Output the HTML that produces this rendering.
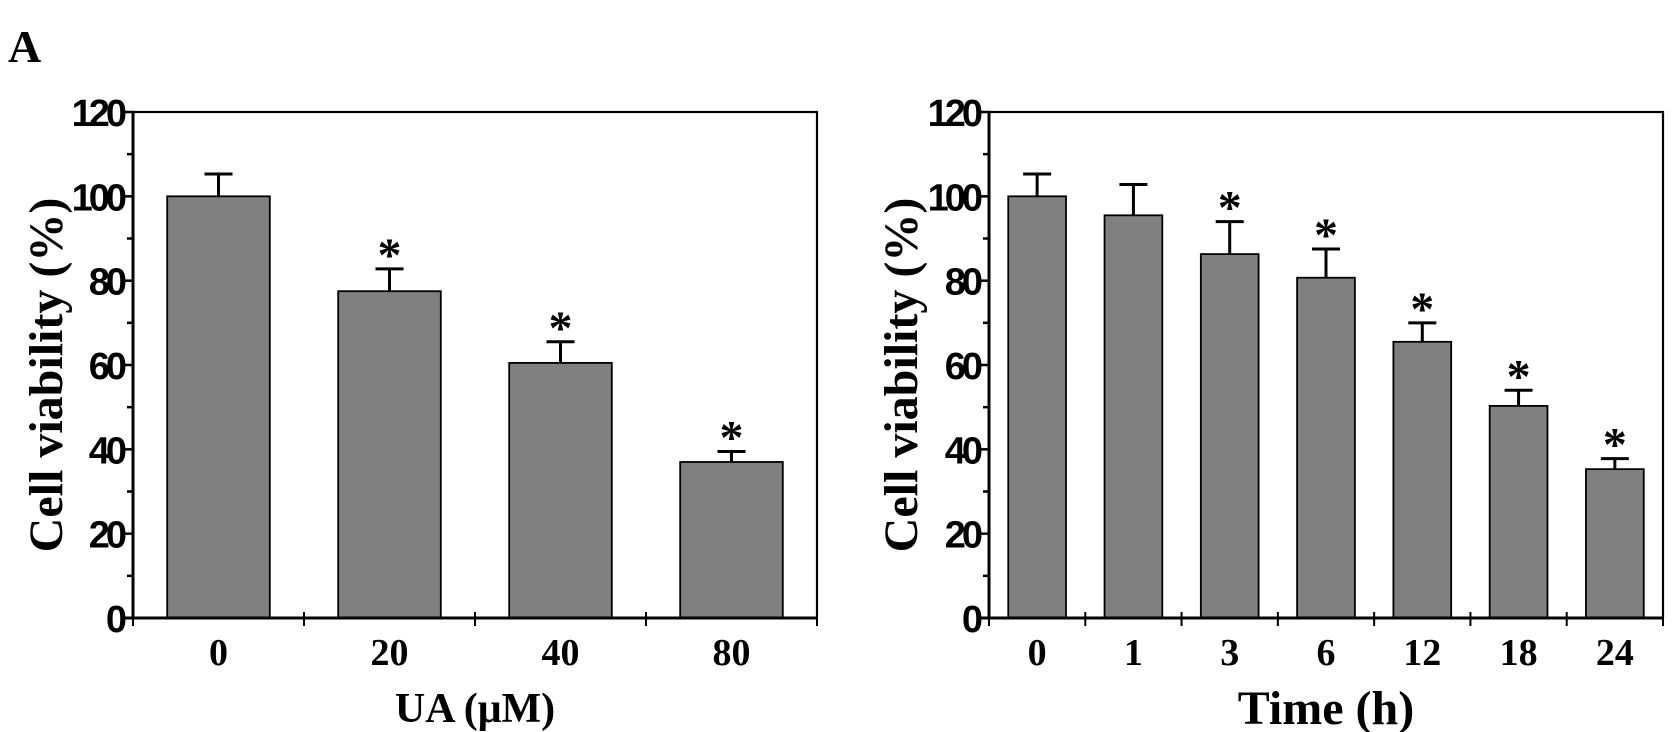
<!DOCTYPE html>
<html><head><meta charset="utf-8">
<style>
html,body{margin:0;padding:0;background:#fff;}
svg{display:block;}
.tick{font-family:"Liberation Sans",Arial,sans-serif;font-weight:bold;font-size:38px;letter-spacing:-4px;}
.serif{font-family:"Liberation Serif","Times New Roman",serif;font-weight:bold;}
</style></head>
<body>
<svg id="fig" width="1677" height="732" viewBox="0 0 1677 732" xmlns="http://www.w3.org/2000/svg">
<text x="8" y="62" class="serif" font-size="46">A</text>
</svg>
<script>
const leftCategories = ["0","20","40","80"];
const leftValues = [100, 77.5, 60.5, 37];
const leftErrors = [5.3, 5.3, 5, 2.5];
const leftSig = [false, true, true, true];
const rightCategories = ["0","1","3","6","12","18","24"];
const rightValues = [100, 95.5, 86.3, 80.7, 65.5, 50.3, 35.3];
const rightErrors = [5.3, 7.3, 7.7, 6.8, 4.5, 3.7, 2.5];
const rightSig = [false, false, true, true, true, true, true];
const yTicks = [0, 20, 40, 60, 80, 100, 120];

const NS = "http://www.w3.org/2000/svg";
const svg = document.getElementById("fig");
function mk(tag, attrs, parent){
  const e = document.createElementNS(NS, tag);
  for (const k in attrs) e.setAttribute(k, attrs[k]);
  (parent||svg).appendChild(e);
  return e;
}

function chart(cfg){
  const g = mk("g", {});
  
  
  const x0 = cfg.x0, x1 = cfg.x1, yTop = 112, yBot = 618;
  const y = v => yBot - (v / 120) * (yBot - yTop);
  const n = cfg.cats.length;
  const cw = (x1 - x0) / n;
  const xc = i => x0 + cw * (i + 0.5);
  const bw = cw * 0.6;
  cfg.vals.forEach((v, i) => {
    const r = mk("rect", {x: xc(i) - bw/2, y: y(v), width: bw, height: yBot - y(v), fill: "#808080", stroke: "#000", "stroke-width": 1.8}, g);
    
    
    const top = y(v + cfg.errs[i]);
    const eb = mk("path", {d: `M${xc(i)} ${y(v)} V${top} M${xc(i)-14} ${top} H${xc(i)+14}`, stroke: "#000", "stroke-width": 3, fill: "none"}, g);
    
    
    if (cfg.sig[i]) {
      const s = mk("text", {x: xc(i), y: top + 2, "text-anchor": "middle", class: "serif", "font-size": 48}, g);
      s.textContent = "*";
      
      
    }
  });
  const fr = mk("path", {d: `M${x0} ${yBot} V${yTop} H${x1} V${yBot}`, stroke: "#000", "stroke-width": 2.2, fill: "none"}, g);
  
  
  const xa = mk("line", {x1: x0 - 10, y1: yBot, x2: x1, y2: yBot, stroke: "#000", "stroke-width": 3}, g);
  
  
  const ya = mk("line", {x1: x0, y1: yTop, x2: x0, y2: yBot, stroke: "#000", "stroke-width": 3}, g);
  
  
  yTicks.forEach(t => {
    mk("line", {x1: x0 - 10, y1: y(t), x2: x0, y2: y(t), stroke: "#000", "stroke-width": 2.5}, g);
    if (t < 120) mk("line", {x1: x0 - 6, y1: y(t + 10), x2: x0, y2: y(t + 10), stroke: "#000", "stroke-width": 2.5}, g);
    const lb = mk("text", {x: x0 - 10, y: y(t) + 14, "text-anchor": "end", class: "tick"}, g);
    lb.textContent = t;
    
    
  });
  for (let i = 0; i <= n; i++) {
    mk("line", {x1: x0 + cw * i, y1: yBot - 6, x2: x0 + cw * i, y2: yBot + 8, stroke: "#000", "stroke-width": 2}, g);
  }
  cfg.cats.forEach((c, i) => {
    const lb = mk("text", {x: xc(i), y: 665, "text-anchor": "middle", class: "serif", "font-size": 38}, g);
    lb.textContent = c;
    
    
  });
  const xt = mk("text", {x: (x0 + x1) / 2, y: cfg.xtY, "text-anchor": "middle", class: "serif", "font-size": cfg.xtSize}, g);
  xt.textContent = cfg.xTitle;
  
  
  const cy = (yTop + yBot) / 2 + 10;
  const yt = mk("text", {x: 0, y: 0, transform: `translate(${cfg.ytX},${cy}) rotate(-90)`, "text-anchor": "middle", class: "serif", "font-size": 48}, g);
  yt.textContent = "Cell viability (%)";
  
  
}

chart({name: "chart-ua-concentration", x0: 133, x1: 817, cats: leftCategories, vals: leftValues, errs: leftErrors, sig: leftSig, xTitle: "UA (μM)", xtY: 722, xtSize: 42, ytX: 62});
chart({name: "chart-time", x0: 989, x1: 1663, cats: rightCategories, vals: rightValues, errs: rightErrors, sig: rightSig, xTitle: "Time (h)", xtY: 724, xtSize: 48, ytX: 917});
</script>
</body></html>
